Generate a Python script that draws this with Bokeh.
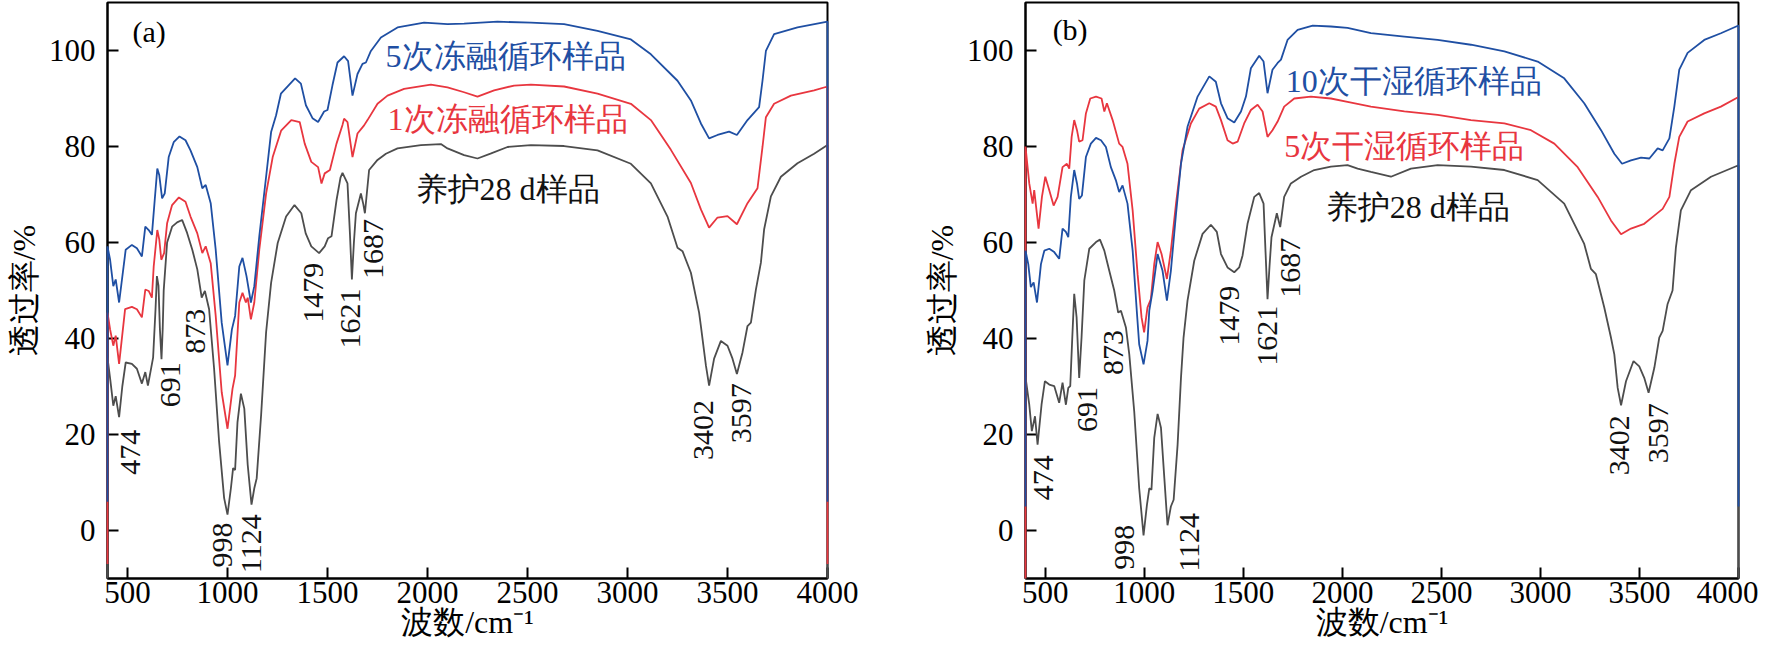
import math
from bokeh.plotting import figure
from bokeh.models import Range1d, FixedTicker
from bokeh.layouts import row
from bokeh.embed import file_html
from bokeh.resources import INLINE
from bokeh.core.properties import value

FONT = "Liberation Serif"
BLUE = "#1F4FA3"
RED = "#E8363F"
GRAY = "#4D4D4D"

X_TICKS = [500, 1000, 1500, 2000, 2500, 3000, 3500, 4000]
Y_TICKS = [0, 20, 40, 60, 80, 100]
X_TITLE = "波数/cm⁻¹"
Y_TITLE = "透过率/%"

# ---------------- panel (a) spectra: (wavenumber, transmittance) ----------------
A_CURED = [(400, -10), (400, 36), (415, 31), (429, 26), (441, 28), (458, 23.6), (474, 30), (491, 35),
           (522, 34.7), (547, 33.7), (572, 30.6), (589, 33), (602, 30.2), (619, 34), (628, 36), (640, 46),
           (647, 53), (655, 51), (662, 42), (670, 35.7), (676, 42), (681, 50), (698, 60), (723, 63.3),
           (748, 64.2), (773, 64.7), (798, 62), (824, 58.5), (849, 54.4), (871, 48.5), (887, 49.9),
           (908, 46.1), (933, 33.7), (958, 18.5), (983, 6.8), (1000, 3.3), (1017, 8.8), (1028, 13),
           (1038, 12.6), (1050, 22.6), (1067, 28.5), (1084, 25.4), (1101, 13.7), (1120, 5.4), (1134, 8.8),
           (1146, 10.9), (1168, 24), (1193, 41.3), (1218, 51.6), (1251, 59.9), (1293, 65.4), (1335, 67.8),
           (1369, 66.1), (1391, 61.9), (1419, 59.2), (1458, 57.8), (1486, 59.2), (1503, 60.9), (1520, 61.3),
           (1545, 68.8), (1565, 73.5), (1575, 74.5), (1600, 72.3), (1612, 62), (1622, 52.3), (1632, 60),
           (1642, 66.1), (1667, 70.2), (1679, 68), (1687, 66.1), (1708, 75.1), (1750, 77.2), (1792, 78.5),
           (1850, 79.6), (1967, 80.3), (2067, 80.5), (2100, 79.6), (2183, 78.2), (2250, 77.5), (2315, 78.5),
           (2400, 79.9), (2517, 80.3), (2683, 80.1), (2850, 79.2), (3017, 76.4), (3117, 72.3), (3200, 65.4),
           (3250, 58.9), (3275, 58.2), (3317, 53.7), (3358, 45.4), (3367, 42.6), (3392, 34.4), (3408, 30.2),
           (3433, 35.8), (3467, 39.5), (3500, 38.5), (3525, 35.8), (3547, 32.6), (3575, 37.1), (3600, 42.6),
           (3617, 43.3), (3642, 50.2), (3667, 55.8), (3683, 62.7), (3717, 69.6), (3767, 73.7), (3850, 76.5),
           (3933, 78.5), (4000, 80.3), (4000, -10)]

A_FT1 = [(400, -7), (400, 45.4), (413, 41.9), (429, 38.5), (441, 40.6), (458, 34.7), (488, 46.1), (522, 46.6),
         (547, 46.1), (572, 44.4), (589, 50.2), (606, 49.9), (622, 48.5), (631, 55), (649, 62.6), (659, 60.6),
         (669, 56.4), (683, 57.8), (698, 64), (723, 67.8), (757, 69.4), (790, 68.5), (815, 65.4), (849, 61.9),
         (874, 57.8), (891, 59.2), (916, 55.7), (941, 44.7), (971, 28.8), (1000, 21.2), (1025, 29.5),
         (1038, 32.3), (1059, 47.5), (1075, 49.5), (1092, 47.5), (1101, 48.5), (1117, 44), (1134, 47.5),
         (1159, 58.5), (1193, 70.2), (1226, 77.8), (1268, 83.3), (1319, 85.5), (1361, 85.1), (1386, 80.6),
         (1419, 76.8), (1453, 75.7), (1470, 72.3), (1486, 74.4), (1512, 75.1), (1545, 80.6), (1575, 84.5),
         (1583, 85.8), (1600, 85.1), (1625, 77.8), (1650, 82.7), (1683, 84.4), (1700, 85.5), (1750, 88.9),
         (1800, 90.6), (1883, 92), (2017, 92.9), (2100, 92.3), (2183, 91.3), (2250, 90.4), (2333, 91.7),
         (2433, 92.7), (2517, 92.9), (2683, 92.5), (2850, 91), (3017, 88.9), (3117, 85.5), (3217, 79.3),
         (3317, 72.4), (3367, 66.9), (3408, 63.1), (3450, 65.2), (3500, 65.5), (3547, 63.8), (3600, 68.2),
         (3650, 71.3), (3675, 79.9), (3692, 86.1), (3733, 88.9), (3817, 90.6), (3933, 91.7), (4000, 92.5),
         (4000, -7)]

A_FT5 = [(400, 6), (400, 59.2), (413, 56.4), (429, 50.9), (441, 52.3), (458, 47.5), (491, 58.5), (522, 59.5),
         (547, 58.8), (572, 57.1), (589, 63.3), (606, 62.6), (622, 61.6), (636, 68.8), (649, 75.4), (659, 74),
         (673, 69.2), (686, 70.2), (706, 77.8), (731, 80.9), (760, 82.1), (790, 81.3), (815, 79.2), (849, 75.7),
         (874, 71.3), (891, 72), (916, 68.2), (941, 58.5), (971, 43.3), (1000, 34.4), (1022, 41.9), (1038, 44.7),
         (1059, 55), (1075, 56.8), (1095, 53), (1117, 47.5), (1134, 50.9), (1159, 61.3), (1193, 73.7),
         (1218, 83), (1243, 86.5), (1267, 91), (1338, 94.2), (1367, 93.1), (1392, 88.6), (1425, 85.9),
         (1453, 85.1), (1483, 87.3), (1500, 87.6), (1525, 92.8), (1550, 97.5), (1583, 98.8), (1603, 97.8),
         (1625, 90.6), (1650, 95.1), (1675, 97.2), (1692, 97.5), (1717, 99.9), (1767, 102.7), (1850, 104.8),
         (1983, 105.8), (2100, 105.5), (2183, 105.6), (2350, 106), (2517, 105.8), (2683, 105.5), (2850, 104.1),
         (3017, 102.3), (3117, 99.2), (3250, 93.7), (3317, 89.6), (3367, 84.8), (3408, 81.7), (3450, 82.4),
         (3508, 83.1), (3547, 82.4), (3600, 85.5), (3658, 88.2), (3675, 93.7), (3692, 99.9), (3733, 103.4),
         (3850, 104.8), (4000, 106), (4000, 6)]

# ---------------- panel (b) spectra ----------------
B_CURED = [(400, -10), (400, 32), (419, 26.2), (432, 20.7), (448, 23.8), (461, 17.9), (481, 26.2), (498, 31.1),
           (520, 30.4), (545, 30.1), (570, 26.6), (587, 30.8), (604, 26.2), (616, 29.7), (626, 30.1), (636, 40),
           (646, 49.3), (658, 44.4), (671, 31.8), (683, 40.2), (697, 52.1), (722, 58.7), (756, 60.1), (776, 60.6),
           (798, 58.3), (823, 54.1), (848, 50), (868, 45.4), (882, 45.8), (907, 42.3), (924, 36.7), (949, 24.8),
           (974, 8.8), (996, -1), (1013, 5.3), (1025, 8.8), (1036, 8.5), (1050, 19.3), (1067, 24.3), (1084, 21.4),
           (1101, 10.9), (1117, 1.1), (1134, 5), (1148, 6.4), (1168, 17.9), (1185, 31.8), (1198, 40.2),
           (1218, 47.9), (1252, 56.2), (1294, 61.8), (1336, 63.7), (1366, 62.2), (1387, 57.6), (1420, 54.8),
           (1454, 53.8), (1479, 54.8), (1496, 57.3), (1521, 63.9), (1555, 69.5), (1580, 70.3), (1602, 68.1),
           (1612, 58), (1622, 48.2), (1632, 55), (1642, 61.1), (1669, 66.1), (1686, 63.2), (1706, 69.5),
           (1740, 72.3), (1791, 73.7), (1858, 75.1), (1942, 75.8), (2026, 76.1), (2077, 75.4), (2144, 74.7),
           (2245, 73.7), (2346, 75.4), (2481, 76.1), (2649, 75.8), (2818, 75.1), (2986, 73), (3120, 68.1),
           (3221, 59.7), (3255, 54.5), (3280, 53.4), (3322, 46.5), (3356, 40.2), (3373, 36.7), (3390, 29.7),
           (3407, 26.1), (3432, 31.1), (3470, 35.3), (3499, 34.2), (3524, 31.8), (3546, 28.7), (3575, 33.9),
           (3600, 40.2), (3617, 41.6), (3642, 47.2), (3667, 50), (3684, 59), (3709, 66.7), (3760, 70.9),
           (3861, 73.7), (4000, 76.1), (4000, -10)]

B_WD5 = [(400, -10), (400, 80), (419, 72.3), (436, 68.1), (444, 70.9), (466, 62.9), (483, 69.5), (500, 73.7),
         (520, 70.9), (542, 67.7), (562, 69.5), (587, 75.7), (609, 76.4), (621, 75.4), (633, 82), (646, 85.5),
         (660, 83.4), (671, 81), (688, 81.3), (705, 86.9), (727, 90), (756, 90.4), (784, 90), (798, 87.3),
         (811, 89), (840, 85.5), (873, 80.6), (890, 79.9), (915, 76.4), (941, 66.7), (966, 53.4), (986, 44.4),
         (999, 41.3), (1016, 46.5), (1033, 48.2), (1050, 55.5), (1067, 60.1), (1087, 57.6), (1114, 52.4),
         (1134, 58.3), (1160, 68.1), (1193, 79.2), (1235, 84.8), (1277, 87.9), (1328, 89), (1361, 88.3),
         (1387, 85.5), (1420, 81.3), (1446, 80.6), (1471, 81), (1504, 84.8), (1538, 87.6), (1572, 88.7),
         (1597, 87.3), (1622, 82), (1647, 83.4), (1673, 85.2), (1706, 88.3), (1757, 90), (1841, 90.4),
         (1942, 90), (2026, 89.3), (2144, 88.3), (2313, 87.3), (2481, 86.6), (2649, 85.5), (2818, 84.8),
         (2952, 83.4), (3070, 80.6), (3188, 75.7), (3289, 69.5), (3356, 64.6), (3407, 61.7), (3457, 62.9),
         (3524, 63.9), (3575, 65.6), (3617, 67), (3651, 69.5), (3676, 76.4), (3701, 82), (3743, 85.2),
         (3827, 86.9), (3911, 88.3), (4000, 90.3)]

B_WD10 = [(400, 5), (400, 58.3), (414, 55.5), (427, 50.7), (441, 51.7), (458, 47.5), (478, 55.5), (495, 58.3),
          (520, 58.7), (545, 58), (570, 56.6), (587, 62.9), (604, 62.2), (616, 61.1), (629, 69.5), (646, 75.1),
          (660, 72.3), (671, 69.1), (685, 69.8), (705, 77.8), (730, 80.6), (756, 81.8), (781, 81.3), (806, 79.9),
          (831, 75.7), (856, 73), (873, 70.5), (890, 71.9), (915, 68.1), (941, 58.3), (963, 45.1), (974, 38.8),
          (996, 34.6), (1016, 39.5), (1025, 45.8), (1042, 50), (1067, 57.6), (1092, 54.1), (1114, 47.9),
          (1134, 54.1), (1160, 66), (1185, 76.4), (1218, 84.1), (1269, 90.4), (1328, 94.6), (1361, 93.5),
          (1387, 89), (1420, 85.9), (1454, 85), (1488, 87.3), (1513, 90.4), (1538, 96.3), (1580, 98.9),
          (1602, 97.7), (1622, 91.1), (1647, 96), (1673, 97.4), (1690, 98.1), (1723, 102.2), (1774, 104.3),
          (1850, 105.2), (1942, 105), (2026, 104.7), (2144, 103.6), (2313, 102.9), (2481, 102.2), (2649, 101.2),
          (2818, 99.8), (2986, 97.7), (3120, 94.2), (3221, 89), (3306, 83.4), (3373, 78.5), (3412, 76.4),
          (3457, 77.1), (3508, 77.7), (3550, 77.5), (3592, 79.6), (3617, 79.2), (3651, 81.7), (3676, 88.3),
          (3701, 96), (3743, 99.5), (3827, 102.2), (3911, 103.6), (4000, 105.2), (4000, 5)]

# ---------------- peak annotations: (label, wavenumber, start of text) ----------------
A_PEAKS = [("474", 515, 11.6), ("691", 717, 25.7), ("873", 840, 36.8), ("998", 975, -7.7),
           ("1124", 1120, -8.9), ("1479", 1430, 43.3), ("1621", 1615, 37.9), ("1687", 1730, 52.4),
           ("3402", 3380, 14.7), ("3597", 3568, 18.2)]
B_PEAKS = [("474", 491, 6.3), ("691", 711, 20.5), ("873", 845, 32.4), ("998", 900, -8.2),
           ("1124", 1226, -8.6), ("1479", 1428, 38.5), ("1621", 1622, 34.3), ("1687", 1739, 48.5),
           ("3402", 3399, 11.5), ("3597", 3595, 14.0)]

A_SERIES_LABELS = [("5次冻融循环样品", 1790, 98.8, BLUE), ("1次冻融循环样品", 1800, 85.7, RED),
                   ("养护28 d样品", 1940, 71.2, "#111111")]
B_SERIES_LABELS = [("10次干湿循环样品", 1714, 93.6, BLUE), ("5次干湿循环样品", 1707, 80.1, RED),
                   ("养护28 d样品", 1916, 67.4, "#111111")]

A_TAG = ("(a)", 525, 104)
B_TAG = ("(b)", 537, 104.4)


def make_panel(width, left, right, series, peaks, labels, tag):
    p = figure(width=width, height=648, output_backend="svg", toolbar_location=None,
               x_range=Range1d(400, 4000), y_range=Range1d(-10, 110),
               min_border_left=left, min_border_right=right, min_border_top=2, min_border_bottom=70)
    p.grid.visible = False
    p.outline_line_color = "black"
    p.outline_line_width = 2
    p.background_fill_color = "white"
    p.border_fill_color = "white"

    for data, color in series:
        xs = [d[0] for d in data]
        ys = [d[1] for d in data]
        r = p.line(xs, ys, line_color=color, line_width=1.8)
        r.level = "overlay"

    p.xaxis.ticker = FixedTicker(ticks=X_TICKS)
    p.yaxis.ticker = FixedTicker(ticks=Y_TICKS)
    for ax in (p.xaxis[0], p.yaxis[0]):
        ax.axis_line_color = "black"
        ax.axis_line_width = 2
        ax.major_tick_in = 11
        ax.major_tick_out = 0
        ax.major_tick_line_width = 2
        ax.major_tick_line_color = "black"
        ax.minor_tick_line_color = None
        ax.major_label_text_font = FONT
        ax.major_label_text_font_size = "31px"
        ax.major_label_text_color = "black"
        ax.axis_label_text_font = FONT
        ax.axis_label_text_font_size = "32px"
        ax.axis_label_text_font_style = "normal"
        ax.axis_label_text_color = "black"
    p.xaxis.axis_label = X_TITLE
    p.yaxis.axis_label = Y_TITLE
    p.xaxis.major_label_standoff = 3
    p.xaxis.axis_label_standoff = -2
    p.yaxis.major_label_standoff = 12
    p.yaxis.axis_label_standoff = 4

    p.text(x=[pk[1] for pk in peaks], y=[pk[2] for pk in peaks], text=[pk[0] for pk in peaks],
           angle=math.pi / 2, text_align="left", text_baseline="middle",
           text_font=value(FONT), text_font_size="30px", text_color="#111111")

    p.text(x=[lb[1] for lb in labels], y=[lb[2] for lb in labels], text=[lb[0] for lb in labels],
           text_color=[lb[3] for lb in labels], text_align="left", text_baseline="middle",
           text_font=value(FONT), text_font_size="32px")

    p.text(x=[tag[1]], y=[tag[2]], text=[tag[0]], text_align="left", text_baseline="middle",
           text_font=value(FONT), text_font_size="30px", text_color="black")
    return p


pa = make_panel(862, 107, 35, [(A_CURED, GRAY), (A_FT1, RED), (A_FT5, BLUE)], A_PEAKS, A_SERIES_LABELS, A_TAG)
pb = make_panel(896, 163, 20, [(B_CURED, GRAY), (B_WD5, RED), (B_WD10, BLUE)], B_PEAKS, B_SERIES_LABELS, B_TAG)

layout = row(pa, pb)
open("out.html", "w").write(file_html(layout, INLINE))
